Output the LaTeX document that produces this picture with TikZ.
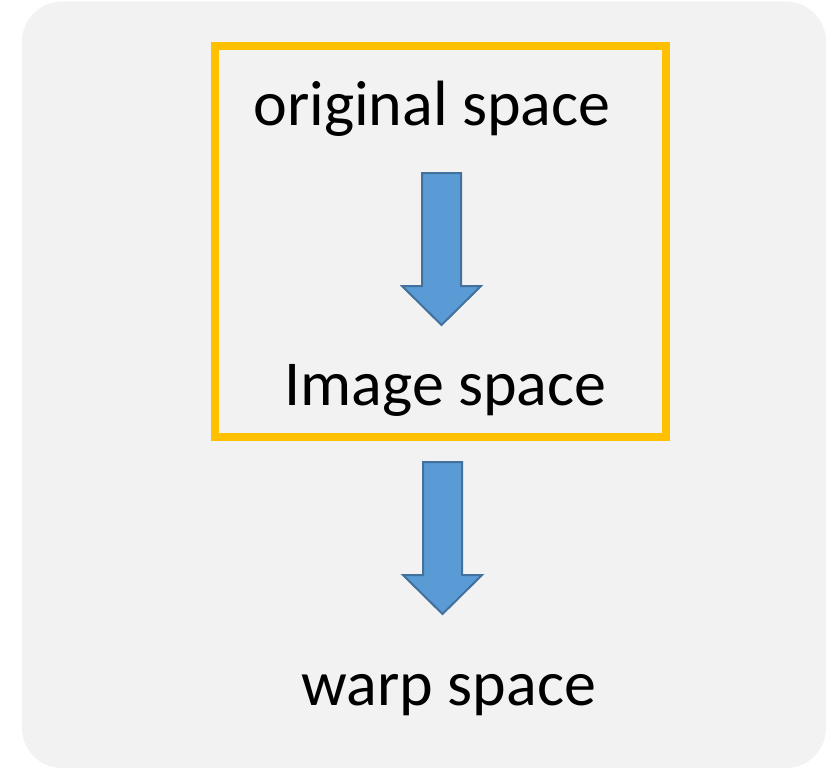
\documentclass[tikz,border=0pt]{standalone}
\usepackage{fontspec}
\setmainfont{Carlito}
\definecolor{panelgray}{HTML}{F2F2F2}
\definecolor{framegold}{HTML}{FFC000}
\definecolor{arrowfill}{HTML}{5B9BD5}
\definecolor{arrowedge}{HTML}{41719C}
\tikzset{
  label text/.style={inner sep=0pt, anchor=base, font=\fontsize{64}{76}\selectfont},
  block arrow/.style={fill=arrowfill, draw=arrowedge, line width=2pt, line join=miter},
  pics/downarrow/.style={code={
    \path[block arrow] (-19.5,0) -- (19.5,0) -- (19.5,113) -- (39.5,113)
      -- (0,152) -- (-39.5,113) -- (-19.5,113) -- cycle;
  }}
}
\begin{document}
\begin{tikzpicture}[x=1pt, y=-1pt]
  \useasboundingbox (0,0) rectangle (840,768);
  % rounded panel
  \fill[panelgray, rounded corners=40pt] (22,1.5) rectangle (826,768);
  % frame around the first two stages
  \draw[framegold, line width=8pt] (215,46) rectangle (666,437);
  % stage labels
  \node[label text] (orig) at (432,125) {original space};
  \node[label text] (img)  at (445.5,405) {Image space};
  \node[label text] (warp) at (449,705) {warp space};
  % block arrows between stages
  \pic at (441.5,173) {downarrow};
  \pic at (442.5,462) {downarrow};
\end{tikzpicture}
\end{document}
